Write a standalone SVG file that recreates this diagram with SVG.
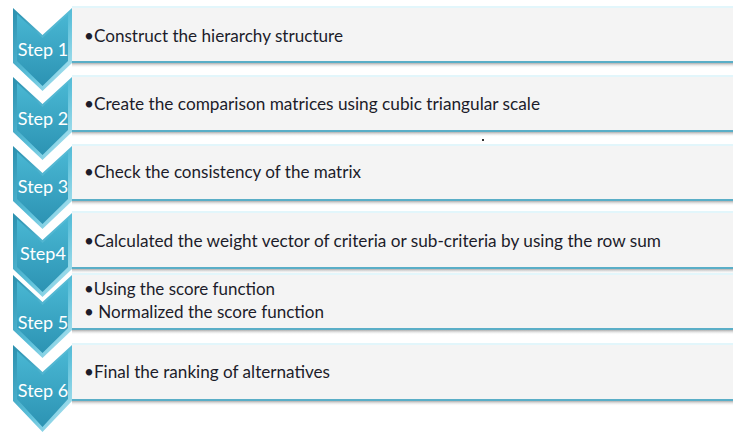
<svg xmlns="http://www.w3.org/2000/svg" width="733" height="435" viewBox="0 0 733 435">
<defs>
<linearGradient id="chev" x1="0" y1="0" x2="0" y2="1">
<stop offset="0" stop-color="#49b7d3"/>
<stop offset="1" stop-color="#2c93b3"/>
</linearGradient>
<linearGradient id="bevel" x1="0" y1="0" x2="1" y2="1">
<stop offset="0" stop-color="#2a8fae"/>
<stop offset="0.55" stop-color="#5cc0da"/>
<stop offset="1" stop-color="#c4ecf5"/>
</linearGradient>
<linearGradient id="shadow" x1="0" y1="0" x2="0" y2="1">
<stop offset="0" stop-color="#9a9a9a" stop-opacity="0.8"/>
<stop offset="1" stop-color="#ffffff" stop-opacity="0"/>
</linearGradient>
</defs>
<style>
.box{fill:#f4f4f4}
.top{fill:#e2f6fb}
.line{fill:#5aaec7}
.sh{fill:url(#shadow)}
.cb{fill:url(#bevel)}
.ci{fill:url(#chev)}
.lbl{font-family:Lato,"Open Sans","Liberation Sans",sans-serif;font-size:18px;fill:#ffffff;text-anchor:middle}
.txt{font-family:Lato,"Open Sans","Liberation Sans",sans-serif;font-size:17px;fill:#1c1c2a}
</style>
<rect width="733" height="435" fill="#ffffff"/>

<g id="step1">
<rect class="top" x="72" y="6" width="661" height="2"/>
<rect class="box" x="72" y="8" width="661" height="54"/>
<rect class="line" x="72" y="61" width="661" height="2"/>
<rect class="sh" x="72" y="63" width="661" height="5"/>
<polygon class="cb" points="13,8 42.5,35 72,8 72,63 42.5,91 13,63"/>
<polygon class="ci" points="17,14 42.5,38 68,14 68,61 42.5,86 17,61"/>
<text class="lbl" x="43" y="56">Step 1</text>
<text class="txt" x="84" y="42" textLength="259" lengthAdjust="spacingAndGlyphs">•Construct the hierarchy structure</text>
</g>

<g id="step2">
<rect class="top" x="72" y="75" width="661" height="2"/>
<rect class="box" x="72" y="77" width="661" height="54"/>
<rect class="line" x="72" y="130" width="661" height="2"/>
<rect class="sh" x="72" y="132" width="661" height="5"/>
<polygon class="cb" points="13,77 42.5,104 72,77 72,132 42.5,160 13,132"/>
<polygon class="ci" points="17,83 42.5,107 68,83 68,130 42.5,155 17,130"/>
<text class="lbl" x="43" y="125">Step 2</text>
<text class="txt" x="84" y="110" textLength="456" lengthAdjust="spacingAndGlyphs">•Create the comparison matrices using cubic triangular scale</text>
<rect x="482" y="139" width="2" height="2" fill="#333333"/>
</g>

<g id="step3">
<rect class="top" x="72" y="144" width="661" height="2"/>
<rect class="box" x="72" y="146" width="661" height="54"/>
<rect class="line" x="72" y="199" width="661" height="2"/>
<rect class="sh" x="72" y="201" width="661" height="5"/>
<polygon class="cb" points="13,146 42.5,173 72,146 72,201 42.5,229 13,201"/>
<polygon class="ci" points="17,152 42.5,176 68,152 68,199 42.5,224 17,199"/>
<text class="lbl" x="43" y="193">Step 3</text>
<text class="txt" x="84" y="178" textLength="277" lengthAdjust="spacingAndGlyphs">•Check the consistency of the matrix</text>
</g>

<g id="step4">
<rect class="top" x="72" y="211" width="661" height="2"/>
<rect class="box" x="72" y="213" width="661" height="55"/>
<rect class="line" x="72" y="267" width="661" height="2"/>
<rect class="sh" x="72" y="269" width="661" height="5"/>
<polygon class="cb" points="13,213 42.5,240 72,213 72,269 42.5,297 13,269"/>
<polygon class="ci" points="17,219 42.5,243 68,219 68,267 42.5,292 17,267"/>
<text class="lbl" x="43" y="260">Step4</text>
<text class="txt" x="84" y="247" textLength="577" lengthAdjust="spacingAndGlyphs">•Calculated the weight vector of criteria or sub-criteria by using the row sum</text>
</g>

<g id="step5">
<rect class="top" x="72" y="273" width="661" height="2"/>
<rect class="box" x="72" y="275" width="661" height="54"/>
<rect class="line" x="72" y="328" width="661" height="2"/>
<rect class="sh" x="72" y="330" width="661" height="5"/>
<polygon class="cb" points="13,275 42.5,302 72,275 72,330 42.5,358 13,330"/>
<polygon class="ci" points="17,281 42.5,305 68,281 68,328 42.5,353 17,328"/>
<text class="lbl" x="43" y="329">Step 5</text>
<text class="txt" x="84" y="295" textLength="191" lengthAdjust="spacingAndGlyphs">•Using the score function</text>
<text class="txt" x="84" y="318" textLength="240" lengthAdjust="spacingAndGlyphs">• Normalized the score function</text>
</g>

<g id="step6">
<rect class="top" x="72" y="343" width="661" height="2"/>
<rect class="box" x="72" y="345" width="661" height="55"/>
<rect class="line" x="72" y="399" width="661" height="2"/>
<rect class="sh" x="72" y="401" width="661" height="5"/>
<polygon class="cb" points="13,345 42.5,372 72,345 72,401 42.5,432 13,401"/>
<polygon class="ci" points="17,351 42.5,375 68,351 68,399 42.5,427 17,399"/>
<text class="lbl" x="43" y="397">Step 6</text>
<text class="txt" x="84" y="378" textLength="246" lengthAdjust="spacingAndGlyphs">•Final the ranking of alternatives</text>
</g>

<g id="connectors"></g>
</svg>
